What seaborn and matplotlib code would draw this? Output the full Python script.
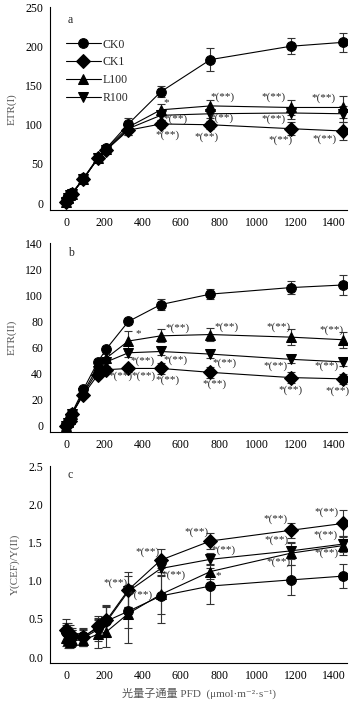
import numpy as np
import pandas as pd
import matplotlib
matplotlib.use("Agg")
import matplotlib.pyplot as plt
import seaborn as sns

sns.set_theme(style="white")
plt.rcParams['font.family'] = ['Liberation Serif', 'Noto Sans CJK SC', 'DejaVu Sans']

# ---------------- data ----------------
pfd = [0, 10, 20, 30, 90, 165, 210, 325, 495, 755, 1175, 1450]
treatments = ["CK0", "CK1", "L100", "R100"]

# Panel a: ETR(I)
etr1_ck0 = [3, 8, 12, 13, 32, 58, 70, 101, 142, 183, 200, 205]
etr1_ck1 = [2, 7, 11, 12, 31, 57, 68, 93, 101, 100, 95, 92]
etr1_l100 = [2, 7, 11, 12, 31, 57, 69, 97, 119, 124, 122, 122]
etr1_r100 = [2, 7, 11, 12, 31, 57, 68, 95, 112, 114, 115, 114]
etr1_ck0_sd = [2, 2, 2, 3, 3, 4, 4, 8, 7, 15, 10, 12]
etr1_ck1_sd = [2, 2, 2, 3, 3, 4, 4, 6, 5, 5, 8, 12]
etr1_l100_sd = [2, 2, 2, 3, 3, 4, 4, 6, 8, 7, 10, 14]
etr1_r100_sd = [2, 2, 2, 3, 3, 4, 4, 8, 6, 6, 8, 10]

# Panel b: ETR(II)
etr2_ck0 = [0, 3, 6, 10, 28, 49, 59, 80, 93, 101, 106, 108]
etr2_ck1 = [0, 2, 4, 9, 24, 39, 43, 44, 44, 41, 37, 36]
etr2_l100 = [0, 3, 5, 9, 26, 45, 52, 65, 69, 70, 68, 66]
etr2_r100 = [0, 2, 5, 9, 25, 42, 49, 56, 57, 55, 51, 49]
etr2_ck0_sd = [1, 1, 1, 1, 2, 2, 2, 2, 4, 4, 5, 8]
etr2_ck1_sd = [1, 1, 1, 1, 2, 2, 2, 3, 4, 4, 4, 4]
etr2_l100_sd = [1, 1, 1, 1, 2, 2, 3, 8, 5, 5, 6, 6]
etr2_r100_sd = [1, 1, 1, 1, 2, 2, 3, 3, 3, 3, 3, 3]

# Panel c: Y(CEF)/Y(II)
cef_ck0 = [0.33, 0.30, 0.28, 0.26, 0.27, 0.38, 0.47, 0.60, 0.80, 0.93, 1.01, 1.06]
cef_ck1 = [0.35, 0.32, 0.30, 0.28, 0.26, 0.40, 0.48, 0.88, 1.27, 1.52, 1.66, 1.75]
cef_l100 = [0.25, 0.22, 0.20, 0.22, 0.22, 0.30, 0.33, 0.57, 0.82, 1.12, 1.36, 1.46]
cef_r100 = [0.30, 0.27, 0.25, 0.25, 0.25, 0.36, 0.46, 0.86, 1.16, 1.28, 1.39, 1.48]
cef_ck0_sd = [0.12, 0.12, 0.10, 0.10, 0.10, 0.12, 0.20, 0.22, 0.36, 0.24, 0.20, 0.16]
cef_ck1_sd = [0.15, 0.12, 0.12, 0.10, 0.12, 0.14, 0.20, 0.23, 0.15, 0.10, 0.10, 0.18]
cef_l100_sd = [0.10, 0.10, 0.08, 0.08, 0.08, 0.18, 0.20, 0.38, 0.25, 0.10, 0.15, 0.12]
cef_r100_sd = [0.12, 0.12, 0.10, 0.10, 0.10, 0.15, 0.20, 0.20, 0.10, 0.08, 0.10, 0.10]

panel_letters = ["a", "b", "c"]
ylabels = ["ETR(I)", "ETR(II)", "Y(CEF)/Y(II)"]
xlabel = "光量子通量 PFD  (μmol·m⁻²·s⁻¹)"

# significance labels: (treatment, pfd, text)
sig_a = [("L100", 495, "*"), ("R100", 495, "*(**)"), ("CK1", 495, "*(**)"),
         ("L100", 755, "*(**)"), ("R100", 755, "*(**)"), ("CK1", 755, "*(**)"),
         ("L100", 1175, "*(**)"), ("R100", 1175, "*(**)"), ("CK1", 1175, "*(**)"),
         ("L100", 1450, "*(**)"), ("CK1", 1450, "*(**)")]
sig_b = [("L100", 325, "*"), ("R100", 325, "*(**)"), ("CK1", 325, "*(**)"),
         ("R100", 495, "*(**)"), ("CK1", 495, "*(**)"), ("L100", 495, "*(**)"),
         ("R100", 495, "*(**)"),
         ("L100", 755, "*(**)"), ("R100", 755, "*(**)"), ("CK1", 755, "*(**)"),
         ("L100", 1175, "*(**)"), ("R100", 1175, "*(**)"), ("CK1", 1175, "*(**)"),
         ("L100", 1450, "*(**)"), ("R100", 1450, "*(**)"), ("CK1", 1450, "*(**)")]
sig_c = [("CK1", 325, "*(**)"), ("L100", 495, "*(**)"), ("CK1", 495, "*(**)"),
         ("R100", 495, "*(**)"),
         ("CK1", 755, "*(**)"), ("R100", 755, "*(**)"), ("L100", 755, "*"),
         ("CK1", 1175, "*(**)"), ("R100", 1175, "*(**)"), ("L100", 1175, "*(**)"),
         ("CK1", 1450, "*(**)"), ("R100", 1450, "*(**)"), ("L100", 1450, "*(**)")]

# label offsets (points) per panel, in the same order as the sig lists
off_a = [(4, 5), (10.3, -2.7), (5, -8), (8.8, 6.6), (8, -3.4), (-3.2, -8.7),
         (-12.7, 7.7), (-12.7, -4.5), (-7.3, -8.3), (-14, 7), (-13.3, -6)]
off_b = [(7, 5.5), (10, -6.4), (-5.5, -5.9), (-12.3, -18.1), (4.5, -8.3),
         (11.7, 5.4), (10.4, -6.1),
         (11.4, 5.2), (10.2, -6.6), (3, -8.6),
         (-8.8, 7), (-11.2, -4.6), (-0.4, -8.9),
         (-8.6, 7), (-12.2, -3.4), (-3.9, -9.1)]
off_c = [(-9.1, 4.7), (-14.8, -0.4), (-9.9, 6), (9.3, -4.8),
         (-10.2, 6.6), (9.7, 6.6), (5.8, -2.6),
         (-11.2, 7.8), (-10, 7.8), (-8.8, -6.2),
         (-11.8, 8.4), (-12.7, 6.4), (-11.8, -5.6)]

markers = {"CK0": "o", "CK1": "D", "L100": "^", "R100": "v"}

def make_df(vals, sds):
    rows = []
    for t, v, s in zip(treatments, vals, sds):
        for x, y, e in zip(pfd, v, s):
            rows.append({"PFD": x, "value": y, "sd": e, "treatment": t})
    return pd.DataFrame(rows)

dfs = [
    make_df([etr1_ck0, etr1_ck1, etr1_l100, etr1_r100],
            [etr1_ck0_sd, etr1_ck1_sd, etr1_l100_sd, etr1_r100_sd]),
    make_df([etr2_ck0, etr2_ck1, etr2_l100, etr2_r100],
            [etr2_ck0_sd, etr2_ck1_sd, etr2_l100_sd, etr2_r100_sd]),
    make_df([cef_ck0, cef_ck1, cef_l100, cef_r100],
            [cef_ck0_sd, cef_ck1_sd, cef_l100_sd, cef_r100_sd]),
]
sigs = [sig_a, sig_b, sig_c]
offs = [off_a, off_b, off_c]

fig = plt.figure(figsize=(3.6, 7.01), dpi=100)
rects = [(0.139, 0.700, 0.825, 0.290),
         (0.139, 0.384, 0.825, 0.269),
         (0.139, 0.054, 0.825, 0.281)]
ylims = [(-9, 250), (-4.6, 140), (-0.08, 2.5)]
yticks = [np.arange(0, 251, 50), np.arange(0, 141, 20), np.arange(0, 2.51, 0.5)]
yfmt = ["{:.0f}", "{:.0f}", "{:.1f}"]
letter_y = [0.936, 0.947, 0.954]

for i in range(3):
    ax = fig.add_axes(rects[i])
    df = dfs[i]
    for t in treatments:
        sub = df[df.treatment == t]
        ax.errorbar(sub.PFD, sub.value, yerr=sub.sd, fmt="none",
                    ecolor="#333333", elinewidth=0.8, capsize=3, capthick=0.8,
                    zorder=2)
    sns.lineplot(data=df, x="PFD", y="value", hue="treatment", style="treatment",
                 markers=markers, dashes=False, palette=["black"] * 4,
                 linewidth=0.8, markersize=7, markeredgecolor="black",
                 ax=ax, legend=(i == 0), zorder=3, errorbar=None)
    ax.set_xlim(-85, 1470)
    ax.set_ylim(*ylims[i])
    ax.set_xticks(range(0, 1401, 200))
    ax.set_yticks(yticks[i])
    ax.set_yticklabels([yfmt[i].format(v) for v in yticks[i]])
    for s in ["top", "right"]:
        ax.spines[s].set_visible(False)
    for s in ["left", "bottom"]:
        ax.spines[s].set_color("black")
        ax.spines[s].set_linewidth(0.8)
    ax.tick_params(direction="in", length=3, width=0.8, labelsize=8.5,
                   colors="black", pad=5)
    ax.set_ylabel(ylabels[i], fontsize=8, color="#555555", labelpad=6)
    ax.set_xlabel(xlabel if i == 2 else "", fontsize=8, color="#555555",
                  labelpad=4)
    ax.text(0.06, letter_y[i], panel_letters[i], transform=ax.transAxes,
            fontsize=8.5, va="center", ha="left")
    vals = {t: dict(zip(df[df.treatment == t].PFD, df[df.treatment == t].value))
            for t in treatments}
    for (t, x, txt), (dx, dy) in zip(sigs[i], offs[i]):
        ax.annotate(txt, (x, vals[t][x]), xytext=(dx, dy),
                    textcoords="offset points", ha="center", va="center",
                    fontsize=8, zorder=5)
    if i == 0:
        leg = ax.legend(loc="upper left", bbox_to_anchor=(0.055, 0.845),
                        frameon=False, fontsize=8.5, handlelength=2.9,
                        handletextpad=0.2, labelspacing=0.5, borderaxespad=0,
                        borderpad=0)
        for h in leg.legend_handles:
            h.set_color("black")
            h.set_markersize(7)
            h.set_linewidth(0.8)

fig.savefig("out.png", dpi=100)
